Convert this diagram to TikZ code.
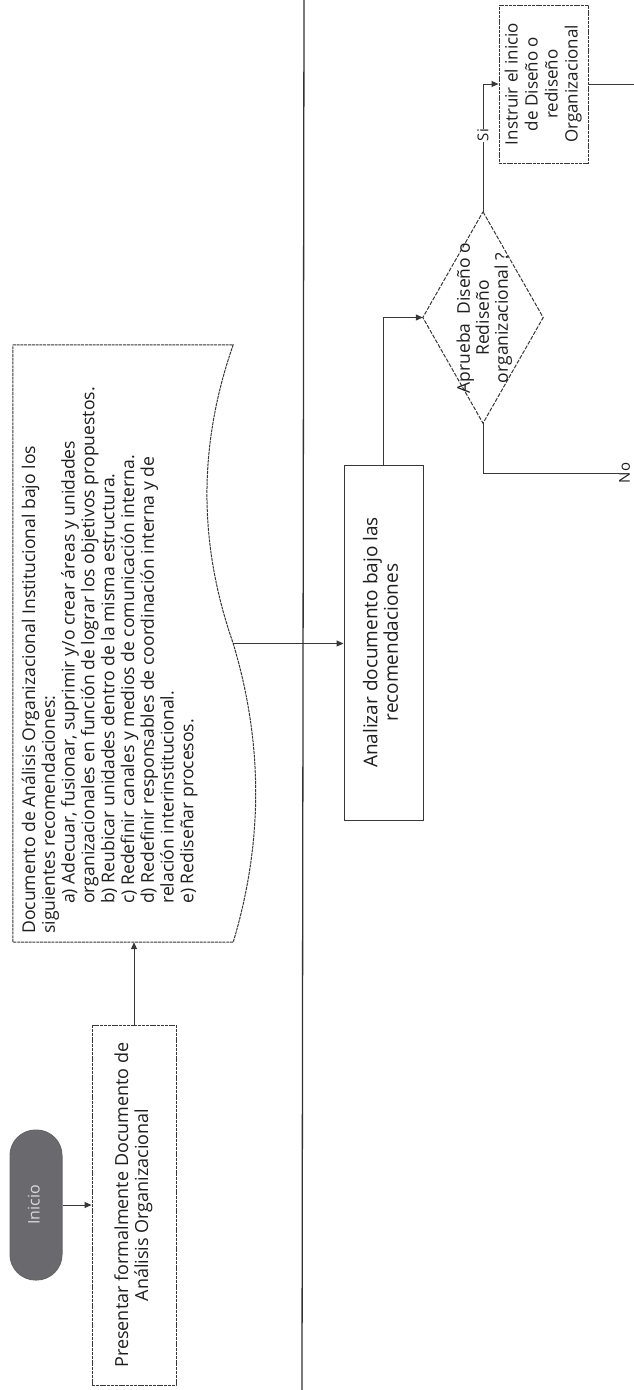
\documentclass[tikz,border=0pt]{standalone}
\usepackage{fontspec}
\setmainfont{Open Sans}
\usetikzlibrary{arrows.meta}
% text turned a quarter turn, read from bottom to top
\newcommand{\rottext}[2][c]{\rotatebox{90}{\begin{tabular}{@{}#1@{}}#2\end{tabular}}}
\definecolor{inkc}{RGB}{30,30,30}
\definecolor{edgec}{RGB}{55,55,55}
\definecolor{termfill}{RGB}{105,105,110}

\begin{document}
\begin{tikzpicture}[x=1pt,y=-1pt,
  line/.style={draw=edgec, line width=1pt},
  arr/.style={line, -{Triangle[length=7pt,width=6pt]}},
  dens/.style={dash pattern=on 3pt off 0.8pt},
  box/.style={line, rectangle, inner sep=0pt, text=inkc,
              font=\fontsize{18}{20}\selectfont},
  lbl/.style={inner sep=0.5pt, fill=white, text=inkc,
              font=\fontsize{15}{17}\selectfont}]

\useasboundingbox (0,0) rectangle (634,1390);

% swimlane divider
\coordinate (laneT) at (304,0);
\coordinate (laneB) at (302,1390);
\draw[line, line width=1.3pt, draw=black!80] (laneT) -- (laneB);

% start terminator
\node[line, draw=black!60, fill=termfill, rounded corners=25.5pt,
      minimum width=52, minimum height=150, inner sep=0pt,
      text=white!85!black, font=\fontsize{16}{18}\selectfont]
  (inicio) at (36,1205) {\rottext{Inicio}};

% first task
\node[box, dens, minimum width=84, minimum height=360]
  (pres) at (134,1205)
  {\rottext{Presentar formalmente Documento de\\Análisis Organizacional}};

% document with the recommendations
\node[inner sep=0pt, minimum width=220, minimum height=597] (doc) at (123,643.5) {};
\draw[line, dens]
  (doc.north west) -- (doc.north east)
  .. controls +(-35,100) and +(-35,-100) .. (doc.east)
  .. controls +(30,100) and +(30,-100) .. (doc.south east)
  -- (doc.south west) -- cycle;
\node[anchor=south west, inner sep=0pt, text=inkc,
      font=\fontsize{17.6}{19.8}\selectfont]
  (doctext) at (21,934)
  {\rottext[l]{Documento de Análisis Organizacional Institucional bajo los\\
   siguientes recomendaciones:\\
   \hspace*{30pt}a) Adecuar, fusionar, suprimir y/o crear áreas y unidades\\
   \hspace*{30pt}organizacionales en función de lograr los objetivos propuestos.\\
   \hspace*{30pt}b) Reubicar unidades dentro de la misma estructura.\\
   \hspace*{30pt}c) Redefinir canales y medios de comunicación interna.\\
   \hspace*{30pt}d) Redefinir responsables de coordinación interna y de\\
   \hspace*{30pt}relación interinstitucional.\\
   \hspace*{30pt}e) Rediseñar procesos.}};

% review task
\node[box, minimum width=79, minimum height=355,
      font=\fontsize{19}{20.5}\selectfont]
  (ana) at (383.5,642.5)
  {\rottext{Analizar documento bajo las\\recomendaciones}};

% decision
\node[inner sep=0pt, minimum width=120, minimum height=211] (dec) at (483,317.5) {};
\draw[line, dash pattern=on 4pt off 1.5pt]
  (dec.north) -- (dec.east) -- (dec.south) -- (dec.west) -- cycle;
\node[inner sep=0pt, text=inkc, font=\fontsize{17.5}{18.8}\selectfont]
  (dectext) at (485,318)
  {\rottext{Aprueba \ Diseño o\\Rediseño\\organizacional ?}};

% approved: start the design
\node[box, dens, minimum width=89, minimum height=158,
      font=\fontsize{17}{20}\selectfont]
  (ins) at (543.5,84)
  {\rottext{Instruir el inicio\\de Diseño o\\rediseño\\Organizacional}};

% exits
\coordinate (exitR) at (634,84);
\node[lbl, anchor=west, inner sep=0pt] (no) at (619,473) {\rotatebox{90}{No}};

% connectors
\draw[arr] (inicio.east) -- (pres.west);
\draw[arr] (pres.north) -- (pres.north |- doc.south);
\draw[arr] (doc.east) -- (doc.east -| ana.west);
\draw[arr] (ana.north) |- (dec.west);
\draw[arr] (dec.north) |- node[lbl, pos=0.3] (si) {\rotatebox{90}{Si}} (ins.west);
\draw[line] (ins.east) -- (exitR);
\draw[line] (dec.south) |- (no.west);

\end{tikzpicture}
\end{document}
